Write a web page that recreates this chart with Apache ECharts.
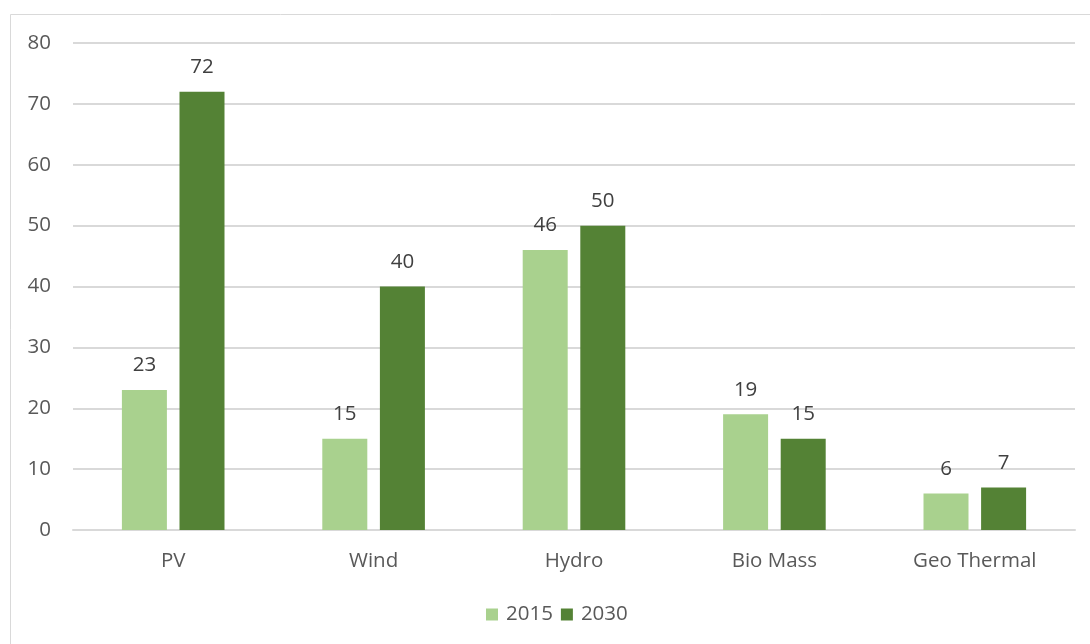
<!DOCTYPE html>
<html>
<head>
<meta charset="utf-8">
<script src="https://cdn.jsdelivr.net/npm/echarts@6/dist/echarts.min.js"></script>
<style>
  html, body { margin: 0; padding: 0; background: #ffffff; }
  #chart { width: 1090px; height: 644px; }
</style>
</head>
<body>
<div id="chart"></div>
<script>
// Renewable capacity by source, 2015 vs 2030
const categories = ['PV', 'Wind', 'Hydro', 'Bio Mass', 'Geo Thermal'];
const values2015 = [23, 15, 46, 19, 6];
const values2030 = [72, 40, 50, 15, 7];
const seriesNames = ['2015', '2030'];

const FONT = '"Open Sans", "Liberation Sans", sans-serif';
const FS = 20.5;
const chart = echarts.init(document.getElementById('chart'), null, { renderer: 'canvas' });

chart.setOption({
  animation: false,
  backgroundColor: '#ffffff',
  graphic: [{
    type: 'rect',
    shape: { x: 10.5, y: 14.5, width: 1200, height: 800 },
    style: { fill: 'none', stroke: '#d9d9d9', lineWidth: 1 },
    silent: true
  }],
  grid: { left: 73, right: 15, top: 43, bottom: 114 },
  legend: {
    data: seriesNames,
    bottom: 14,
    left: 481,
    itemWidth: 12,
    itemHeight: 12,
    itemGap: 8,
    icon: 'rect',
    textStyle: { color: '#595959', fontSize: FS, fontFamily: FONT, padding: [0, 0, 0, 3] }
  },
  xAxis: {
    type: 'category',
    data: categories,
    axisLine: { lineStyle: { color: '#d9d9d9', width: 2 } },
    axisTick: { show: false },
    axisLabel: { color: '#595959', fontSize: FS, fontFamily: FONT, margin: 21 }
  },
  yAxis: {
    type: 'value',
    min: 0,
    max: 80,
    interval: 10,
    axisLine: { show: false },
    axisTick: { show: false },
    axisLabel: { color: '#595959', fontSize: FS, fontFamily: FONT, margin: 22 },
    splitLine: { lineStyle: { color: '#d9d9d9', width: 2 } }
  },
  series: [
    {
      name: seriesNames[0],
      type: 'bar',
      data: values2015,
      barWidth: 45,
      barGap: '28%',
      itemStyle: { color: '#a9d18e' },
      label: { show: true, position: 'top', distance: 14, color: '#404040', fontSize: FS, fontFamily: FONT }
    },
    {
      name: seriesNames[1],
      type: 'bar',
      data: values2030,
      barWidth: 45,
      barGap: '28%',
      itemStyle: { color: '#548235' },
      label: { show: true, position: 'top', distance: 14, color: '#404040', fontSize: FS, fontFamily: FONT }
    }
  ]
});
</script>
</body>
</html>
